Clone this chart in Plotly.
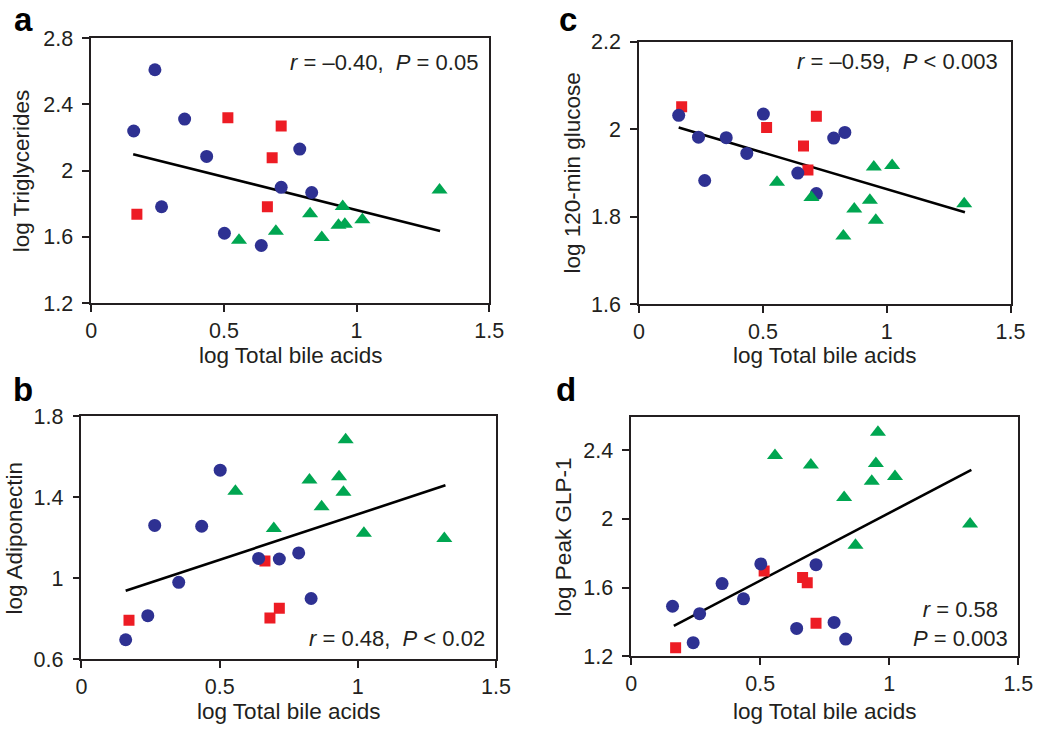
import plotly.graph_objects as go

# ---------------- data ----------------
x_blue = [0.16, 0.24, 0.265, 0.352, 0.435, 0.502, 0.641, 0.716, 0.786, 0.831]
x_red = [0.172, 0.515, 0.664, 0.682, 0.716]
x_green = [0.557, 0.696, 0.825, 0.869, 0.932, 0.948, 0.956, 1.022, 1.313]

# panel a: log Triglycerides
a_blue = [2.239, 2.609, 1.782, 2.311, 2.086, 1.622, 1.548, 1.899, 2.130, 1.868]
a_red = [1.737, 2.319, 1.782, 2.078, 2.269]
a_green = [1.580, 1.634, 1.739, 1.597, 1.671, 1.784, 1.677, 1.704, 1.883]
a_trend_x = [0.158, 1.315]
a_trend_y = [2.099, 1.636]

# panel b: log Adiponectin (one red value not visible)
b_blue = [0.696, 0.815, 1.261, 0.980, 1.257, 1.534, 1.098, 1.095, 1.125, 0.900]
b_red = [0.792, None, 1.085, 0.804, 0.852]
b_green = [1.430, 1.246, 1.486, 1.353, 1.502, 1.425, 1.685, 1.222, 1.197]
b_trend_x = [0.160, 1.317]
b_trend_y = [0.938, 1.459]

# panel c: log 120-min glucose
c_blue = [2.032, 1.982, 1.883, 1.981, 1.945, 2.035, 1.900, 1.853, 1.980, 1.993]
c_red = [2.052, 2.004, 1.962, 1.907, 2.030]
c_green = [1.879, 1.844, 1.756, 1.818, 1.838, 1.914, 1.792, 1.917, 1.830]
c_trend_x = [0.160, 1.316]
c_trend_y = [2.004, 1.810]

# panel d: log Peak GLP-1
d_blue = [1.491, 1.279, 1.448, 1.623, 1.534, 1.737, 1.362, 1.733, 1.397, 1.300]
d_red = [1.249, 1.696, 1.658, 1.628, 1.392]
d_green = [2.368, 2.312, 2.124, 1.846, 2.218, 2.321, 2.503, 2.246, 1.970]
d_trend_x = [0.165, 1.318]
d_trend_y = [1.377, 2.284]

x_ticks = [0, 0.5, 1, 1.5]
x_ticktext = ["0", "0.5", "1", "1.5"]
a_ticks = [1.2, 1.6, 2, 2.4, 2.8]
a_ticktext = ["1.2", "1.6", "2", "2.4", "2.8"]
b_ticks = [0.6, 1, 1.4, 1.8]
b_ticktext = ["0.6", "1", "1.4", "1.8"]
c_ticks = [1.6, 1.8, 2, 2.2]
c_ticktext = ["1.6", "1.8", "2", "2.2"]
d_ticks = [1.2, 1.6, 2, 2.4]
d_ticktext = ["1.2", "1.6", "2", "2.4"]

x_title = "log Total bile acids"
y_titles = {"a": "log Triglycerides", "b": "log Adiponectin",
            "c": "log 120-min glucose", "d": "log Peak GLP-1"}
stats = {"a": "<i>r</i> = –0.40,  <i>P</i> = 0.05",
         "b": "<i>r</i> = 0.48,  <i>P</i> < 0.02",
         "c": "<i>r</i> = –0.59,  <i>P</i> < 0.003",
         "d": "<i>r</i> = 0.58<br><i>P</i> = 0.003"}

# ---------------- style ----------------
W, H = 1050, 737
FONT = "Liberation Sans, Arial, Helvetica, sans-serif"
INK = "#231f20"
BLUE = "#2e3192"
RED = "#ed1c24"
GREEN = "#00a651"


def px(x):
    return x / W


def py(y):
    return 1 - y / H


# panel boxes in pixels: left, right, top, bottom
boxes = {
    "a": (87, 493, 28, 302),
    "c": (646, 1025, 32, 303),
    "b": (77, 500, 419, 670),
    "d": (638, 1033, 420, 667),
}
yranges = {"a": [1.2, 2.8], "b": [0.6, 1.8], "c": [1.6, 2.2], "d": [1.2, 2.59]}
yticks = {"a": (a_ticks, a_ticktext), "b": (b_ticks, b_ticktext),
          "c": (c_ticks, c_ticktext), "d": (d_ticks, d_ticktext)}
data = {
    "a": (a_blue, a_red, a_green, a_trend_x, a_trend_y),
    "b": (b_blue, b_red, b_green, b_trend_x, b_trend_y),
    "c": (c_blue, c_red, c_green, c_trend_x, c_trend_y),
    "d": (d_blue, d_red, d_green, d_trend_x, d_trend_y),
}
order = ["a", "c", "b", "d"]

fig = go.Figure()
layout = dict(
    width=W, height=H, margin=dict(l=0, r=0, t=0, b=0),
    paper_bgcolor="white", plot_bgcolor="white", showlegend=False,
    font=dict(family=FONT, color=INK),
)
annotations = []

for i, key in enumerate(order, start=1):
    xa = "x" if i == 1 else f"x{i}"
    ya = "y" if i == 1 else f"y{i}"
    blue, red, green, tx, ty = data[key]
    fig.add_trace(go.Scatter(x=tx, y=ty, mode="lines", xaxis=xa, yaxis=ya,
                             line=dict(color="black", width=2.6)))
    fig.add_trace(go.Scatter(x=x_red, y=red, mode="markers", xaxis=xa, yaxis=ya,
                             marker=dict(symbol="square", size=11, color=RED)))
    fig.add_trace(go.Scatter(x=x_blue, y=blue, mode="markers", xaxis=xa, yaxis=ya,
                             marker=dict(symbol="circle", size=13, color=BLUE)))
    fig.add_trace(go.Scatter(x=x_green, y=green, mode="markers", xaxis=xa, yaxis=ya,
                             marker=dict(symbol="triangle-up", size=14, color=GREEN)))

    l, r, t, b = boxes[key]
    common = dict(showline=True, linecolor=INK, linewidth=1.6, mirror=True,
                  ticks="outside", ticklen=7, tickwidth=1.6, tickcolor=INK,
                  showgrid=False, zeroline=False,
                  tickfont=dict(size=21.5, family=FONT, color=INK))
    layout["xaxis" if i == 1 else f"xaxis{i}"] = dict(
        domain=[px(l), px(r)], range=[0, 1.5], anchor=ya,
        tickvals=x_ticks, ticktext=x_ticktext, **common)
    tv, tt = yticks[key]
    layout["yaxis" if i == 1 else f"yaxis{i}"] = dict(
        domain=[py(b), py(t)], range=yranges[key], anchor=xa,
        tickvals=tv, ticktext=tt, ticklabelstandoff=5, **common)

# axis titles
xt_y = {"a": 356, "c": 356, "b": 724, "d": 724}
yt_x = {"a": 16, "c": 578, "b": 9, "d": 569}
for key in order:
    l, r, t, b = boxes[key]
    annotations.append(dict(text=x_title, xref="paper", yref="paper",
                            x=px((l + r) / 2), y=py(xt_y[key]),
                            xanchor="center", yanchor="middle", showarrow=False,
                            font=dict(size=22.5, family=FONT, color=INK)))
    annotations.append(dict(text=y_titles[key], xref="paper", yref="paper",
                            x=px(yt_x[key]), y=py((t + b) / 2), textangle=-90,
                            xanchor="center", yanchor="middle", showarrow=False,
                            font=dict(size=22.5, family=FONT, color=INK)))

# panel letters
letters = {"a": (6, 9), "c": (562, 9), "b": (5, 391), "d": (559, 391)}
for key, (lx, ly) in letters.items():
    annotations.append(dict(text=f"<b>{key}</b>", xref="paper", yref="paper",
                            x=px(lx), y=py(ly), xanchor="left", yanchor="middle",
                            showarrow=False,
                            font=dict(size=33, family=FONT, color="black")))

# statistics
stat_pos = {"a": (484, 53, "right"), "c": (1014, 52, "right"),
            "b": (491, 649, "right"), "d": (974, 634, "center")}
for key, (sx, sy, anc) in stat_pos.items():
    annotations.append(dict(text=stats[key], xref="paper", yref="paper",
                            x=px(sx), y=py(sy), xanchor=anc, yanchor="middle",
                            align="center", showarrow=False,
                            font=dict(size=22, family=FONT, color=INK)))

layout["annotations"] = annotations
fig.update_layout(**layout)
fig.write_html("out.html",
               config={"displayModeBar": False},
               post_script="document.body.style.margin='0';")
